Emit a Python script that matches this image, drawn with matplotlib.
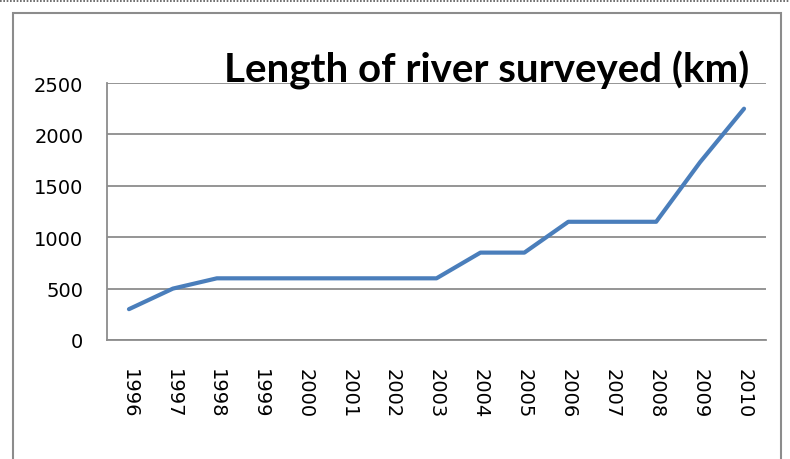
import matplotlib.pyplot as plt
from matplotlib.patches import Rectangle
from matplotlib.lines import Line2D

years = ['1996', '1997', '1998', '1999', '2000', '2001', '2002', '2003',
         '2004', '2005', '2006', '2007', '2008', '2009', '2010']
length_km = [300, 500, 600, 600, 600, 600, 600, 600,
             850, 850, 1150, 1150, 1150, 1730, 2250]
y_ticks = [0, 500, 1000, 1500, 2000, 2500]

W, H = 790, 460
fig = plt.figure(figsize=(W / 100, H / 100), dpi=100)

# outer chart frame and dotted line above it
fig.patches.append(Rectangle((13 / W, -0.05), (781 - 13) / W, 1.05 - 14 / H,
                             transform=fig.transFigure, fill=False,
                             edgecolor='#8c8c8c', linewidth=1.5))
fig.lines.append(Line2D([0, 1], [1 - 2 / H, 1 - 2 / H], transform=fig.transFigure,
                        color='#555555', linestyle=(0, (1, 1)), linewidth=1.2))

ax = fig.add_axes([107 / W, 1 - 341 / H, (766 - 107) / W, (341 - 84) / H])
x = range(len(years))
ax.plot(x, length_km, color='#4a7ebb', linewidth=3, solid_capstyle='round',
        solid_joinstyle='round', zorder=3)

ax.set_xlim(-0.5, len(years) - 0.5)
ax.set_ylim(0, 2500)
ax.set_yticks(y_ticks)
ax.set_xticks(list(x))
ax.set_xticklabels(years, rotation=-90, fontsize=14)
ax.tick_params(axis='y', length=0, labelsize=14, pad=17)
ax.tick_params(axis='x', length=0, pad=20)
ax.grid(axis='y', color='#8c8c8c', linewidth=1.3)
ax.set_axisbelow(True)
for s in ['top', 'right']:
    ax.spines[s].set_visible(False)
for s in ['left', 'bottom']:
    ax.spines[s].set_color('#8c8c8c')
    ax.spines[s].set_linewidth(1.3)

fig.text(749 / W, 1 - 70 / H, 'Length of river surveyed (km)', ha='right',
         va='center', fontsize=29, fontweight='bold', family='Lato')

fig.savefig('out.png', dpi=100)
